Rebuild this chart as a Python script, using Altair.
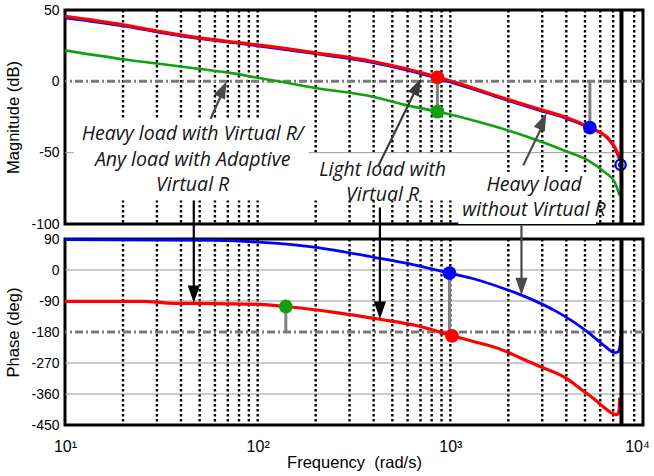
import altair as alt
import pandas as pd

# ---------------- data ----------------
grid_freqs = [20, 30, 40, 50, 60, 70, 80, 90, 100, 200, 300, 400, 500, 600, 700, 800, 900, 1000,
              2000, 3000, 4000, 5000, 6000, 7000, 9000]

mag_red_f = [10, 20, 30, 49, 80, 100, 199, 391, 582, 857, 1016, 1396, 1780, 2970, 3870, 5300, 6600, 7200, 7560]
mag_red_db = [45.5, 39.6, 35.3, 30.6, 27.1, 25.5, 20, 14.1, 9, 3, 0, -5.9, -10.6, -20, -24.7, -32.5, -40, -47, -54]

mag_blue_f = [10, 20, 30, 49, 80, 100, 199, 391, 582, 857, 1016, 1396, 1780, 2970, 3870, 5300, 6600, 7200, 7500, 7650]
mag_blue_db = [44.5, 38.8, 34.6, 30, 26.5, 24.8, 19.3, 13.3, 8.2, 2.2, -0.8, -6.6, -11.4, -20.8, -25.4, -32.8, -40.5, -48, -54, -58.5]

mag_green_f = [10, 20, 30, 49, 75, 100, 128, 199, 391, 582, 857, 1396, 1780, 2970, 3870, 5190, 6310, 7130, 7560]
mag_green_db = [21.7, 15.5, 12.5, 8.8, 5.6, 2.5, 0, -4.7, -10.6, -16.5, -21.2, -28.3, -32.4, -42.4, -48.3, -55.4, -63.6, -70.7, -80]

ph_blue_f = [10, 60, 100, 200, 400, 675, 990, 1290, 1920, 2340, 2860, 3490, 4260, 5190, 6310, 7130, 7400, 7570, 7650]
ph_blue_deg = [88, 86, 81, 66, 37, 13, -9, -24, -55, -73, -94, -118, -147, -181, -220, -240, -238, -225, -191]

ph_red_f = [10, 26, 34, 50, 92, 140, 250, 430, 675, 1020, 1290, 1920, 2340, 2860, 3930, 4790, 5620, 6310, 7130, 7350, 7500, 7570]
ph_red_deg = [-91, -91, -96, -97, -99, -106, -123, -143, -162, -191, -206, -235, -257, -278, -312, -347, -376, -400, -419, -420, -410, -371]

# margin markers
mag_mark_f = [857, 857, 5300]
mag_mark_db = [2.8, -21.2, -32.5]
mag_mark_c = ["#ff0000", "#10a010", "#0000ff"]
open_mark_f = [7650]
open_mark_db = [-58.5]
ph_mark_f = [990, 1020, 140]
ph_mark_deg = [-9, -191, -106]
ph_mark_c = ["#0000ff", "#ff0000", "#10a010"]

mag_stem_f = [857, 5300]
mag_stem_top = [0, 0]
mag_stem_bot = [-21.2, -32.5]
ph_stem_f = [990, 140]
ph_stem_top = [-9, -106]
ph_stem_bot = [-180, -180]

resonance_f = [7730]

# annotation text
txt1 = ["Heavy load with Virtual R/", "Any load with Adaptive", "Virtual R"]
txt1_f = [46, 46, 46]
txt1_db = [-36.8, -55.4, -73.0]
txt2 = ["Light load with", "Virtual R"]
txt2_f = [445, 445]
txt2_db = [-62, -79.7]
txt3 = ["Heavy load", "without Virtual R"]
txt3_f = [2720, 2720]
txt3_db = [-72.8, -90.5]

# white boxes behind text (freq range, dB range)
box_f1 = [11.1, 184, 1100]
box_f2 = [184, 1040, 5700]
box_v1 = [-26.2, -51.6, -63.6]
box_v2 = [-83.5, -83.5, -100]

# arrows (magnitude panel)
arr_m_f1 = [57, 424, 2390, 46.6, 431, 2340]
arr_m_v1 = [-26.2, -58.9, -58.9, -83.5, -88.4, -101]
arr_m_f2 = [66, 650, 3010, 46.6, 431, 2340]
arr_m_v2 = [-7, -8, -31, -112, -112, -112]
arr_m_c = ["#4a4a4a", "#3a3a3a", "#4a4a4a", "#000000", "#000000", "#4a4a4a"]
head_m_f = [69, 705, 3150]
head_m_v = [0, 1.9, -22.4]
head_m_a = [24.6, 26.4, 24]
head_m_c = ["#4a4a4a", "#3a3a3a", "#4a4a4a"]
# arrows (phase panel)
arr_p_f = [46.6, 431, 2340]
arr_p_v1 = [95, 95, 95]
arr_p_v2 = [-70, -118, -50]
arr_p_c = ["#000000", "#000000", "#4a4a4a"]
head_p_f = [46.6, 431, 2340]
head_p_v = [-95, -142, -73]
head_p_a = [180, 180, 180]
head_p_c = ["#000000", "#000000", "#4a4a4a"]

# ---------------- helpers ----------------
XS = alt.Scale(type="log", domain=[10, 10000])
MS = alt.Scale(domain=[-100, 50], nice=False, zero=False)
PS = alt.Scale(domain=[-450, 90], nice=False, zero=False)
W, H1, H2 = 578, 214, 186
FONT = "Liberation Sans"

top_xaxis = alt.Axis(labels=False, ticks=False, domain=False, grid=False, title=None)
bot_xaxis = alt.Axis(values=[10, 100, 1000, 10000], grid=False, ticks=False, domain=False,
                     labelExpr="datum.value == 10 ? '10\u00b9' : datum.value == 100 ? '10\u00b2' : datum.value == 1000 ? '10\u00b3' : '10\u2074'",
                     labelOffset={"condition": {"test": "datum.value == 10000", "value": -6}, "value": 0},
                     labelPadding=13, labelFontSize=16, labelFlush=False,
                     title="Frequency \u00a0(rad/s)", titlePadding=0, titleFontSize=16.5)
mag_yaxis = alt.Axis(values=[50, 0, -50, -100], grid=False, ticks=False, domain=False,
                     labelExpr="'' + datum.value", labelPadding=6, labelFontSize=14,
                     title="Magnitude (dB)", titlePadding=9, titleFontSize=16.5)
ph_yaxis = alt.Axis(values=[90, 0, -90, -180, -270, -360, -450], grid=False, ticks=False, domain=False,
                    labelExpr="'' + datum.value", labelPadding=6, labelFontSize=14,
                    title="Phase (deg)", titlePadding=9, titleFontSize=16.5)


def xe(axis, field="f"):
    return alt.X(f"{field}:Q", scale=XS, axis=axis)


def ye(scale, axis, field="v"):
    return alt.Y(f"{field}:Q", scale=scale, axis=axis)


def df(**cols):
    return pd.DataFrame(cols)


TSTYLE = dict(font="Open Sans", fontStyle="italic", fontSize=19.5, align="center", baseline="middle", color="#151515")
GRID = dict(color="black", strokeWidth=2.4, strokeDash=[2.6, 2.4])


# ---------------- magnitude panel ----------------
def mag_layers():
    xa, ya, sc = top_xaxis, mag_yaxis, MS
    grid = alt.Chart(df(f=grid_freqs)).mark_rule(**GRID).encode(x=xe(xa))
    hthin = alt.Chart(df(v=[-50])).mark_rule(color="#9a9a9a", strokeWidth=1).encode(y=ye(sc, ya))
    boxes = alt.Chart(df(f=box_f1, f2=box_f2, v=box_v1, v2=box_v2)).mark_rect(color="white", opacity=1).encode(
        x=xe(xa), x2="f2:Q", y=ye(sc, ya), y2="v2:Q")
    zero = alt.Chart(df(v=[0])).mark_rule(color="#7a7a7a", strokeWidth=3, strokeDash=[8, 3, 2, 3]).encode(y=ye(sc, ya))
    stems = alt.Chart(df(f=mag_stem_f, v=mag_stem_top, v2=mag_stem_bot)).mark_rule(color="#808080", strokeWidth=3).encode(
        x=xe(xa), y=ye(sc, ya), y2="v2:Q")
    green = alt.Chart(df(f=mag_green_f, v=mag_green_db)).mark_line(color="#10a010", strokeWidth=2.6, interpolate="monotone").encode(
        x=xe(xa), y=ye(sc, ya))
    blue = alt.Chart(df(f=mag_blue_f, v=mag_blue_db)).mark_line(color="#0000ff", strokeWidth=2.6, interpolate="monotone").encode(
        x=xe(xa), y=ye(sc, ya))
    red = alt.Chart(df(f=mag_red_f, v=mag_red_db)).mark_line(color="#ff0000", strokeWidth=3.2, interpolate="monotone").encode(
        x=xe(xa), y=ye(sc, ya))
    marks = alt.Chart(df(f=mag_mark_f, v=mag_mark_db, c=mag_mark_c)).mark_circle(size=190, opacity=1).encode(
        x=xe(xa), y=ye(sc, ya), color=alt.Color("c:N", scale=None))
    omark = alt.Chart(df(f=open_mark_f, v=open_mark_db)).mark_circle(size=160, opacity=1, color="#0000ff").encode(
        x=xe(xa), y=ye(sc, ya))
    omark2 = alt.Chart(df(f=open_mark_f, v=open_mark_db)).mark_point(size=45, opacity=1, color="white", strokeWidth=1.3, filled=False).encode(
        x=xe(xa), y=ye(sc, ya))
    res = alt.Chart(df(f=resonance_f)).mark_rule(color="black", strokeWidth=4).encode(x=xe(xa))
    t1 = alt.Chart(df(f=txt1_f, v=txt1_db, t=txt1)).mark_text(**TSTYLE).encode(x=xe(xa), y=ye(sc, ya), text="t:N")
    t2 = alt.Chart(df(f=txt2_f, v=txt2_db, t=txt2)).mark_text(**TSTYLE).encode(x=xe(xa), y=ye(sc, ya), text="t:N")
    t3 = alt.Chart(df(f=txt3_f, v=txt3_db, t=txt3)).mark_text(**TSTYLE).encode(x=xe(xa), y=ye(sc, ya), text="t:N")
    shafts = alt.Chart(df(f=arr_m_f1, v=arr_m_v1, f2=arr_m_f2, v2=arr_m_v2, c=arr_m_c)).mark_rule(strokeWidth=2.2).encode(
        x=xe(xa), y=ye(sc, ya), x2="f2:Q", y2="v2:Q", color=alt.Color("c:N", scale=None))
    heads = alt.Chart(df(f=head_m_f, v=head_m_v, a=head_m_a, c=head_m_c)).mark_point(
        shape="M0,0L0.7,2L-0.7,2Z", size=300, filled=True, opacity=1).encode(
        x=xe(xa), y=ye(sc, ya), angle=alt.Angle("a:Q", scale=None), color=alt.Color("c:N", scale=None))
    return alt.layer(grid, hthin, boxes, zero, stems, green, blue, red, marks, omark, omark2, res,
                     t1, t2, t3, shafts, heads).properties(width=W, height=H1)


def ph_layers():
    xa, ya, sc = bot_xaxis, ph_yaxis, PS
    grid = alt.Chart(df(f=grid_freqs)).mark_rule(**GRID).encode(x=xe(xa))
    hthin = alt.Chart(df(v=[0, -90, -270, -360])).mark_rule(color="#9a9a9a", strokeWidth=1).encode(y=ye(sc, ya))
    m180 = alt.Chart(df(v=[-180])).mark_rule(color="#7a7a7a", strokeWidth=3, strokeDash=[8, 3, 2, 3]).encode(y=ye(sc, ya))
    stems = alt.Chart(df(f=ph_stem_f, v=ph_stem_top, v2=ph_stem_bot)).mark_rule(color="#808080", strokeWidth=3).encode(
        x=xe(xa), y=ye(sc, ya), y2="v2:Q")
    blue = alt.Chart(df(f=ph_blue_f, v=ph_blue_deg)).mark_line(color="#0000ff", strokeWidth=2.8, interpolate="monotone").encode(
        x=xe(xa), y=ye(sc, ya))
    red = alt.Chart(df(f=ph_red_f, v=ph_red_deg)).mark_line(color="#ff0000", strokeWidth=3.2, interpolate="monotone").encode(
        x=xe(xa), y=ye(sc, ya))
    marks = alt.Chart(df(f=ph_mark_f, v=ph_mark_deg, c=ph_mark_c)).mark_circle(size=190, opacity=1).encode(
        x=xe(xa), y=ye(sc, ya), color=alt.Color("c:N", scale=None))
    res = alt.Chart(df(f=resonance_f)).mark_rule(color="black", strokeWidth=4).encode(x=xe(xa))
    shafts = alt.Chart(df(f=arr_p_f, v=arr_p_v1, v2=arr_p_v2, c=arr_p_c)).mark_rule(strokeWidth=2.2).encode(
        x=xe(xa), y=ye(sc, ya), y2="v2:Q", color=alt.Color("c:N", scale=None))
    heads = alt.Chart(df(f=head_p_f, v=head_p_v, a=head_p_a, c=head_p_c)).mark_point(
        shape="M0,0L0.7,2L-0.7,2Z", size=300, filled=True, opacity=1).encode(
        x=xe(xa), y=ye(sc, ya), angle=alt.Angle("a:Q", scale=None), color=alt.Color("c:N", scale=None))
    return alt.layer(grid, hthin, m180, stems, blue, red, marks, res, shafts, heads).properties(width=W, height=H2)


chart = alt.vconcat(mag_layers(), ph_layers(), spacing=15, bounds="flush").properties(
    padding={"left": 4, "top": 1, "right": 0, "bottom": 0}
).configure_view(stroke="black", strokeWidth=3).configure_axis(
    labelFont=FONT, titleFont=FONT, labelColor="black", titleColor="black", titleFontWeight="normal"
)

chart.save("out.html", embed_options={"renderer": "svg", "actions": False})
